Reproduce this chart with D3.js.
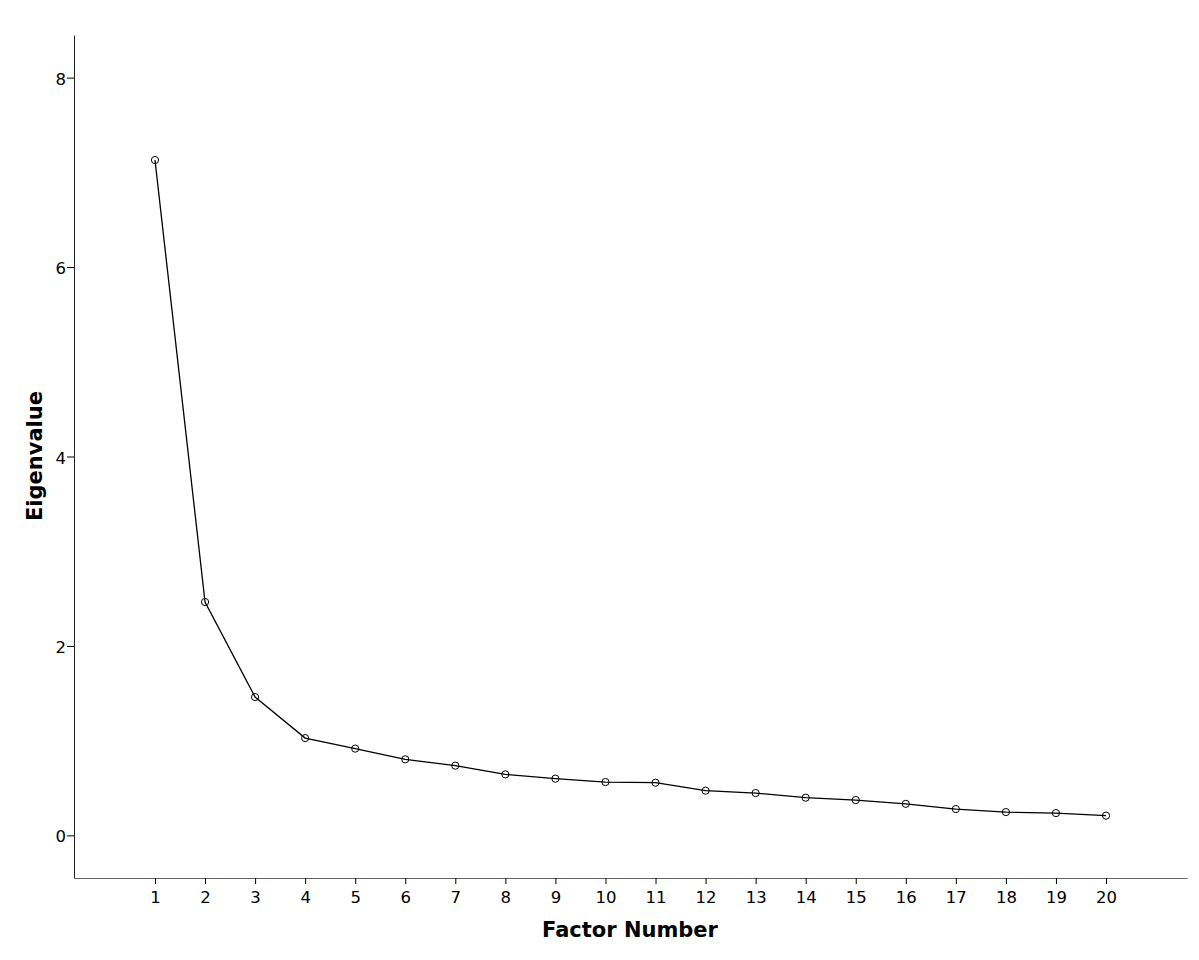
<!DOCTYPE html>
<html><head><meta charset="utf-8">
<script src="https://cdn.jsdelivr.net/npm/d3@7"></script>
<style>body{margin:0;background:#fff}</style>
</head><body>
<script>
const factors = [1,2,3,4,5,6,7,8,9,10,11,12,13,14,15,16,17,18,19,20];
const eigenvalues = [7.13,2.464,1.46,1.027,0.916,0.803,0.736,0.644,0.599,0.563,0.556,0.472,0.447,0.398,0.373,0.333,0.278,0.246,0.235,0.208];
const yTicks = [0,2,4,6,8];

const W=1199,H=960;
const svg=d3.select("body").append("svg").attr("width",W).attr("height",H);
const x=d3.scaleLinear().domain([-0.618,21.618]).range([74,1187]);
const y=d3.scaleLinear().domain([-0.45,8.45]).range([878,35]);
const font="'DejaVu Sans', Verdana, sans-serif";

const xa=svg.append("g").attr("transform","translate(0,878)")
  .call(d3.axisBottom(x).tickValues(factors).tickSize(6).tickSizeOuter(0).tickPadding(3).tickFormat(d3.format("d")));
const ya=svg.append("g").attr("transform","translate(74,0)")
  .call(d3.axisLeft(y).tickValues(yTicks).tickSize(7).tickSizeOuter(0).tickPadding(1).tickFormat(d3.format("d")));
[xa,ya].forEach(a=>{
  a.selectAll("text").attr("font-family",font).attr("font-size",16.5).attr("fill","#000");
  a.selectAll("line").attr("stroke","#000");
});
xa.select(".domain").attr("stroke","#666");
ya.select(".domain").attr("stroke","#222");
xa.selectAll("text").attr("dy","0.95em");
ya.selectAll("text").attr("dy","0.4em");

const line=d3.line().x((d,i)=>x(factors[i])).y(d=>y(d));
svg.append("path").datum(eigenvalues).attr("d",line).attr("fill","none").attr("stroke","#000").attr("stroke-width",1.3);
svg.selectAll("circle.pt").data(eigenvalues).join("circle").attr("class","pt")
  .attr("cx",(d,i)=>x(factors[i])).attr("cy",d=>y(d)).attr("r",3.6)
  .attr("fill","none").attr("stroke","#000").attr("stroke-width",1);

svg.append("text").attr("x",630).attr("y",937).attr("text-anchor","middle")
  .attr("font-family",font).attr("font-weight","bold").attr("font-size",21).text("Factor Number");
svg.append("text").attr("transform","translate(42,456) rotate(-90)").attr("text-anchor","middle")
  .attr("font-family",font).attr("font-weight","bold").attr("font-size",21).text("Eigenvalue");
</script>
</body></html>
